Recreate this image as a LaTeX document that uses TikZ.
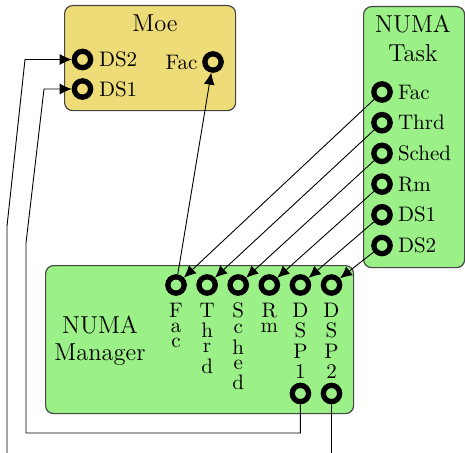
\documentclass[tikz,border=0pt]{standalone}
\usepackage{fontspec}
\setmainfont{lmroman10-regular.otf}
\newfontfamily\titlefont{lmroman12-regular.otf}
\usetikzlibrary{arrows.meta}
\definecolor{moeyellow}{RGB}{238,220,120}
\definecolor{numagreen}{RGB}{155,240,135}
\definecolor{boxborder}{RGB}{70,70,70}
\tikzset{
  box/.style={draw=boxborder, line width=1.2pt, rounded corners=8pt, inner sep=0pt},
  port/.style={circle, draw=black, line width=5.3pt, minimum size=16.3pt, inner sep=0pt},
  lbl/.style={font=\fontsize{21}{25}\selectfont, inner sep=0pt},
  ttl/.style={font=\titlefont\fontsize{24.5}{30}\selectfont, inner sep=0pt},
  wire/.style={line width=0.9pt, draw=black, -{Latex[length=12pt,width=11pt]}},
  vlbl/.style={lbl, anchor=north},
}
\newcommand{\vstack}[1]{\vbox{\baselineskip=0pt\lineskiplimit=0pt\lineskip=5.8pt\halign{\hfil##\hfil\cr#1\crcr}}}
\begin{document}
\begin{tikzpicture}[x=1pt,y=-1pt]
\useasboundingbox (0,0) rectangle (465,452);
\clip (0,0) rectangle (465,452);
% boxes
\node[box, fill=moeyellow, minimum width=171pt, minimum height=105pt, anchor=north west] (moe) at (64,5) {};
\node[box, fill=numagreen, minimum width=101pt, minimum height=261pt, anchor=north west] (task) at (363,6) {};
\node[box, fill=numagreen, minimum width=308pt, minimum height=148pt, anchor=north west] (mgr) at (45,265) {};
% titles
\node[ttl, anchor=base] (moetitle) at (155,31.5) {Moe};
\node[ttl, anchor=base] (tasktitle1) at (413,32.7) {NUMA};
\node[ttl, anchor=base] (tasktitle2) at (413,61.7) {Task};
\node[ttl, anchor=base] (mgrtitle1) at (100,333) {NUMA};
\node[ttl, anchor=base] (mgrtitle2) at (100,360.5) {Manager};
% Moe ports
\node[port] (mds2) at (82.5,59.5) {};
\node[port] (mds1) at (82.5,89) {};
\node[port] (moefac) at (213,62) {};
\node[lbl, anchor=west] (lmds2) at ([xshift=5.5pt]mds2.east) {DS2};
\node[lbl, anchor=west] (lmds1) at ([xshift=5.5pt]mds1.east) {DS1};
\node[lbl, anchor=east] (lmoefac) at ([xshift=-4.5pt]moefac.west) {Fac};
% Task ports
\node[port] (tfac) at (382,92) {};
\node[port] (tthrd) at (382,122.7) {};
\node[port] (tsched) at (382,153.4) {};
\node[port] (trm) at (382,184.1) {};
\node[port] (tds1) at (382,214.8) {};
\node[port] (tds2) at (382,245.5) {};
\node[lbl, anchor=west] (ltfac) at ([xshift=5pt]tfac.east) {Fac};
\node[lbl, anchor=west] (ltthrd) at ([xshift=5pt]tthrd.east) {Thrd};
\node[lbl, anchor=west] (ltsched) at ([xshift=5pt]tsched.east) {Sched};
\node[lbl, anchor=west] (ltrm) at ([xshift=5pt]trm.east) {Rm};
\node[lbl, anchor=west] (ltds1) at ([xshift=5pt]tds1.east) {DS1};
\node[lbl, anchor=west] (ltds2) at ([xshift=5pt]tds2.east) {DS2};
% Manager ports
\node[port] (mfac) at (176,285) {};
\node[port] (mthrd) at (207.1,285) {};
\node[port] (msched) at (238.2,285) {};
\node[port] (mrm) at (269.3,285) {};
\node[port] (mdsp1) at (300.4,285) {};
\node[port] (mdsp2) at (331.5,285) {};
\node[port] (mdsp1b) at (300.4,393.5) {};
\node[port] (mdsp2b) at (331.5,393.5) {};
\node[vlbl] (lmfac) at ([yshift=-7pt]mfac.south) {\vstack{F\cr a\cr c}};
\node[vlbl] (lmthrd) at ([yshift=-7pt]mthrd.south) {\vstack{T\cr h\cr r\cr d}};
\node[vlbl] (lmsched) at ([yshift=-7pt]msched.south) {\vstack{S\cr c\cr h\cr e\cr d}};
\node[vlbl] (lmrm) at ([yshift=-7pt]mrm.south) {\vstack{R\cr m}};
\node[vlbl] (lmdsp1) at ([yshift=-7pt]mdsp1.south) {\vstack{D\cr S\cr P\cr 1}};
\node[vlbl] (lmdsp2) at ([yshift=-7pt]mdsp2.south) {\vstack{D\cr S\cr P\cr 2}};
% wire bends
\coordinate (b1) at (26,433);
\coordinate (b2) at (26,243);
\coordinate (b3) at (44,89);
\coordinate (a0) at (331.5,470);
\coordinate (a1) at (7,470);
\coordinate (a2) at (7,226);
\coordinate (a3) at (25,59.5);
% wires
\draw[wire] (tfac) -- (mfac);
\draw[wire] (tthrd) -- (mthrd);
\draw[wire] (tsched) -- (msched);
\draw[wire] (trm) -- (mrm);
\draw[wire] (tds1) -- (mdsp1);
\draw[wire] (tds2) -- (mdsp2);
\draw[wire] (mfac) -- (moefac);
\draw[wire] (mdsp1b) |- (b1) -- (b2) -- (b3) -- (mds1);
\draw[wire] (mdsp2b) -- (a0) -- (a1) -- (a2) -- (a3) -- (mds2);
\end{tikzpicture}
\end{document}
